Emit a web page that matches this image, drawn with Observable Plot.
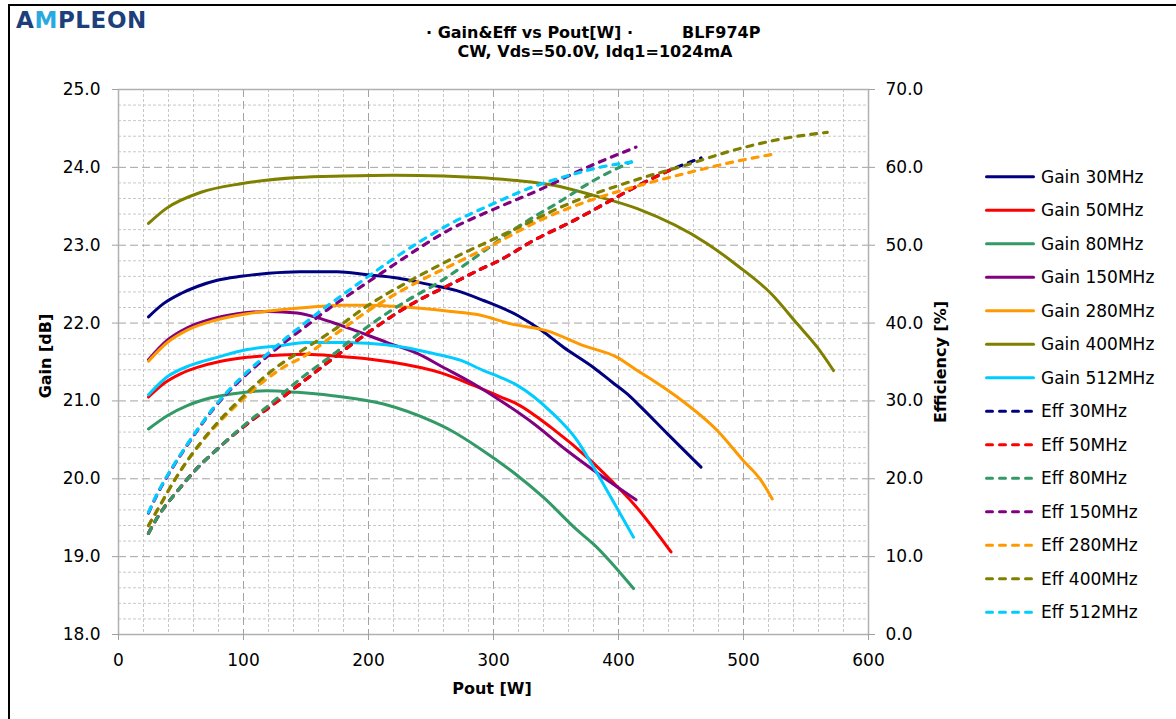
<!DOCTYPE html>
<html>
<head>
<meta charset="utf-8">
<script src="https://cdn.jsdelivr.net/npm/d3@7"></script>
<script src="https://cdn.jsdelivr.net/npm/@observablehq/plot@0.6"></script>
<style>
  html, body { margin: 0; padding: 0; background: #fff; }
  body { width: 1176px; height: 719px; overflow: hidden; position: relative; font-family: "DejaVu Sans", sans-serif; }
  #border { position: absolute; left: 8px; top: 4px; width: 1400px; height: 900px; border: 2px solid #000; box-sizing: border-box; }
  #chart { position: absolute; left: 0; top: 0; }
  #overlay { position: absolute; left: 0; top: 0; pointer-events: none; }
</style>
</head>
<body>
<div id="border"></div>
<div id="chart"></div>
<svg id="overlay" width="1176" height="719"></svg>
<script>
// ---------- DATA (Pout [W], value) ----------
const gain30MHz  = [[24,22.08],[36,22.25],[50,22.38],[63,22.47],[79,22.55],[98,22.60],[120,22.64],[145,22.66],[175,22.66],[199,22.62],[223,22.58],[247,22.50],[270,22.42],[292,22.29],[319,22.10],[338,21.91],[356,21.69],[380,21.43],[395,21.24],[407,21.09],[418,20.92],[439,20.58],[466,20.15]];
const gain50MHz  = [[24,21.05],[36,21.22],[50,21.35],[63,21.43],[82,21.51],[103,21.56],[130,21.59],[150,21.60],[178,21.57],[200,21.54],[218,21.50],[258,21.36],[284,21.20],[306,21.05],[319,20.96],[346,20.66],[378,20.23],[394,19.98],[412,19.68],[442,19.06]];
const gain80MHz  = [[24,20.64],[39,20.81],[55,20.94],[74,21.04],[95,21.10],[118,21.13],[143,21.11],[170,21.07],[212,20.96],[252,20.73],[266,20.62],[289,20.39],[316,20.08],[340,19.76],[367,19.34],[380,19.16],[412,18.59]];
const gain150MHz = [[24,21.53],[39,21.78],[55,21.94],[74,22.05],[95,22.12],[120,22.15],[143,22.13],[159,22.07],[178,21.97],[215,21.75],[239,21.61],[260,21.43],[284,21.22],[306,21.00],[332,20.71],[359,20.36],[380,20.11],[414,19.73]];
const gain280MHz = [[24,21.51],[39,21.75],[55,21.91],[76,22.03],[103,22.12],[130,22.17],[150,22.20],[178,22.23],[200,22.23],[226,22.21],[266,22.15],[287,22.11],[314,21.99],[343,21.90],[372,21.71],[399,21.56],[415,21.39],[428,21.26],[447,21.05],[479,20.62],[500,20.23],[514,19.98],[523,19.74]];
const gain400MHz = [[24,23.28],[38,23.47],[66,23.68],[98,23.79],[143,23.87],[180,23.89],[220,23.90],[260,23.89],[287,23.87],[319,23.83],[348,23.77],[380,23.64],[415,23.47],[471,23.02],[495,22.74],[522,22.38],[543,21.99],[559,21.69],[572,21.39]];
const gain512MHz = [[24,21.08],[39,21.31],[58,21.46],[79,21.56],[103,21.66],[130,21.71],[150,21.75],[178,21.75],[199,21.74],[228,21.69],[252,21.61],[274,21.52],[292,21.39],[306,21.30],[319,21.20],[346,20.86],[367,20.49],[380,20.15],[394,19.76],[412,19.25]];

const eff30MHz  = [[24,13.0],[31,15.0],[36,16.2],[46,18.2],[62,21.2],[79,23.8],[97,26.3],[120,29.1],[143,31.9],[172,35.5],[199,38.7],[234,42.4],[266,45.0],[292,47.1],[303,47.9],[332,50.6],[367,53.4],[391,55.5],[415,57.6],[439,59.5],[466,61.2]];
const eff50MHz  = [[24,13.0],[31,15.0],[36,16.2],[46,18.2],[62,21.2],[79,23.8],[97,26.3],[120,29.1],[143,31.9],[172,35.5],[199,38.7],[234,42.4],[266,45.0],[292,47.1],[303,47.9],[332,50.6],[367,53.4],[391,55.5],[415,57.6],[442,59.7]];
const eff80MHz  = [[24,13.0],[31,15.0],[36,16.2],[46,18.2],[62,21.2],[79,23.8],[97,26.4],[120,29.4],[146,32.9],[172,36.0],[199,39.5],[231,42.9],[258,45.4],[292,49.2],[319,52.3],[354,55.7],[380,58.3],[410,60.7]];
const eff150MHz = [[24,15.6],[31,18.0],[42,21.1],[52,23.6],[63,26.2],[76,29.0],[95,32.3],[116,35.3],[135,37.8],[146,39.1],[167,41.7],[186,43.8],[212,46.6],[226,48.1],[266,52.1],[300,54.6],[338,57.2],[372,59.8],[394,61.3],[414,62.6]];
const eff280MHz = [[24,14.0],[34,16.8],[44,19.6],[55,22.3],[68,25.0],[82,27.5],[98,30.0],[116,32.5],[135,34.6],[146,35.5],[172,38.4],[199,41.5],[236,45.0],[266,47.4],[300,50.1],[340,53.4],[378,55.8],[415,57.6],[458,59.4],[492,60.7],[524,61.7]];
const eff400MHz = [[24,14.0],[34,16.8],[44,19.6],[55,22.3],[68,25.1],[82,27.7],[98,30.3],[116,33.0],[135,35.3],[146,36.4],[172,39.1],[199,42.2],[234,45.5],[266,48.2],[303,51.0],[319,52.2],[354,54.9],[412,58.3],[452,60.2],[492,62.2],[532,63.7],[567,64.5]];
const eff512MHz = [[24,15.7],[31,18.1],[42,21.2],[52,23.7],[63,26.3],[76,29.1],[95,32.5],[116,35.6],[135,38.2],[146,39.6],[167,42.2],[186,44.4],[226,48.9],[266,52.8],[298,55.2],[330,57.4],[359,58.9],[391,60.2],[412,60.7]];

const frequencies  = ["30MHz", "50MHz", "80MHz", "150MHz", "280MHz", "400MHz", "512MHz"];
const seriesColors = ["#000080", "#ff0000", "#339966", "#800080", "#ff9900", "#808000", "#00ccff"];
const gainSeries = [gain30MHz, gain50MHz, gain80MHz, gain150MHz, gain280MHz, gain400MHz, gain512MHz];
const effSeries  = [eff30MHz, eff50MHz, eff80MHz, eff150MHz, eff280MHz, eff400MHz, eff512MHz];

const xTicks    = [0, 100, 200, 300, 400, 500, 600];
const gainTicks = [18, 19, 20, 21, 22, 23, 24, 25];
const effTicks  = [0, 10, 20, 30, 40, 50, 60, 70];

const titleLine1a = "· Gain&Eff vs Pout[W] ·";
const titleLine1b = "BLF974P";
const titleLine2  = "CW, Vds=50.0V, Idq1=1024mA";
const xLabel = "Pout [W]";
const yLabel = "Gain [dB]";
const y2Label = "Efficiency [%]";

// ---------- CHART ----------
const effToGain = e => 18 + e / 10;   // right axis mapped onto the left scale
const minorX = d3.range(0, 601, 20).filter(v => v % 100 !== 0);
const minorY = d3.range(0, 36).map(i => 18 + i * 0.2).filter(v => Math.abs(v - Math.round(v)) > 1e-6);

const dash = "6,7";
const lineMarks = [];
gainSeries.forEach((s, i) => {
  lineMarks.push(Plot.line(s, {x: d => d[0], y: d => d[1], stroke: seriesColors[i], strokeWidth: 3, curve: "monotone-x", strokeLinecap: "round", strokeLinejoin: "round"}));
});
effSeries.forEach((s, i) => {
  lineMarks.push(Plot.line(s, {x: d => d[0], y: d => effToGain(d[1]), stroke: seriesColors[i], strokeWidth: 3.2, curve: "monotone-x", strokeDasharray: dash, strokeLinecap: "round", strokeLinejoin: "round"}));
});

const chart = Plot.plot({
  width: 1176,
  height: 719,
  marginLeft: 118,
  marginRight: 308,
  marginTop: 89,
  marginBottom: 85,
  style: {fontFamily: "DejaVu Sans, sans-serif", fontSize: "17px", color: "#000", background: "transparent"},
  x: {domain: [0, 600]},
  y: {domain: [18, 25]},
  marks: [
    Plot.gridX(minorX, {stroke: "#c8c8c8", strokeOpacity: 1, strokeDasharray: "3,2"}),
    Plot.gridY(minorY, {stroke: "#c8c8c8", strokeOpacity: 1, strokeDasharray: "3,2"}),
    Plot.gridX(xTicks.slice(1, -1), {stroke: "#a3a3a3", strokeOpacity: 1, strokeDasharray: "8,4"}),
    Plot.gridY(gainTicks.slice(1, -1), {stroke: "#a3a3a3", strokeOpacity: 1, strokeDasharray: "8,4"}),
    Plot.frame({stroke: "#b0b0b0", strokeWidth: 1.5}),
    Plot.axisX(xTicks, {tickSize: 6, tickPadding: 13, tickFormat: d => String(d), stroke: "#a0a0a0", fill: "#000", label: null}),
    Plot.axisY(gainTicks, {anchor: "left", tickSize: 6, tickPadding: 12, tickFormat: d => d.toFixed(1), stroke: "#a0a0a0", fill: "#000", label: null}),
    Plot.axisY(effTicks.map(effToGain), {anchor: "right", tickSize: 6, tickPadding: 11, tickFormat: d => ((d - 18) * 10).toFixed(1), stroke: "#a0a0a0", fill: "#000", label: null}),
    ...lineMarks
  ]
});
document.getElementById("chart").appendChild(chart);

// ---------- TITLES, LOGO, LEGEND ----------
const ov = d3.select("#overlay");

const logo = ov.append("text").attr("x", 16).attr("y", 28).attr("font-weight", "bold")
  .style("font-family", "DejaVu Sans, sans-serif").style("font-size", "23px")
  .style("letter-spacing", "0.6px").attr("fill", "#1d3f7b");
logo.append("tspan").text("A");
logo.append("tspan").attr("fill", "#29a9e1").text("M");
logo.append("tspan").text("PLEON");

ov.append("text").attr("x", 426).attr("y", 38).attr("font-weight", "bold")
  .style("font-family", "DejaVu Sans, sans-serif").style("font-size", "16px").text(titleLine1a);
ov.append("text").attr("x", 682).attr("y", 38).attr("font-weight", "bold")
  .style("font-family", "DejaVu Sans, sans-serif").style("font-size", "16px").text(titleLine1b);
ov.append("text").attr("x", 595).attr("y", 57).attr("text-anchor", "middle").attr("font-weight", "bold")
  .style("font-family", "DejaVu Sans, sans-serif").style("font-size", "16px").text(titleLine2);

ov.append("text").attr("x", 492).attr("y", 694).attr("text-anchor", "middle").attr("font-weight", "bold")
  .style("font-family", "DejaVu Sans, sans-serif").style("font-size", "16px").text(xLabel);
ov.append("text").attr("transform", "translate(51,356) rotate(-90)").attr("text-anchor", "middle").attr("font-weight", "bold")
  .style("font-family", "DejaVu Sans, sans-serif").style("font-size", "16px").text(yLabel);
ov.append("text").attr("transform", "translate(946,362) rotate(-90)").attr("text-anchor", "middle").attr("font-weight", "bold")
  .style("font-family", "DejaVu Sans, sans-serif").style("font-size", "16px").text(y2Label);

const legendItems = [
  ...frequencies.map((f, i) => ({label: "Gain " + f, color: seriesColors[i], dashed: false})),
  ...frequencies.map((f, i) => ({label: "Eff " + f, color: seriesColors[i], dashed: true}))
];
const lg = ov.append("g");
legendItems.forEach((it, i) => {
  const cy = 176.7 + i * 33.5;
  lg.append("line").attr("x1", 986.5).attr("x2", 1033.5).attr("y1", cy).attr("y2", cy)
    .attr("stroke", it.color).attr("stroke-width", 3).attr("stroke-linecap", "round")
    .attr("stroke-dasharray", it.dashed ? dash : null);
  lg.append("text").attr("x", 1041).attr("y", cy + 6)
    .style("font-family", "DejaVu Sans, sans-serif").style("font-size", "17px").text(it.label);
});
</script>
</body>
</html>
